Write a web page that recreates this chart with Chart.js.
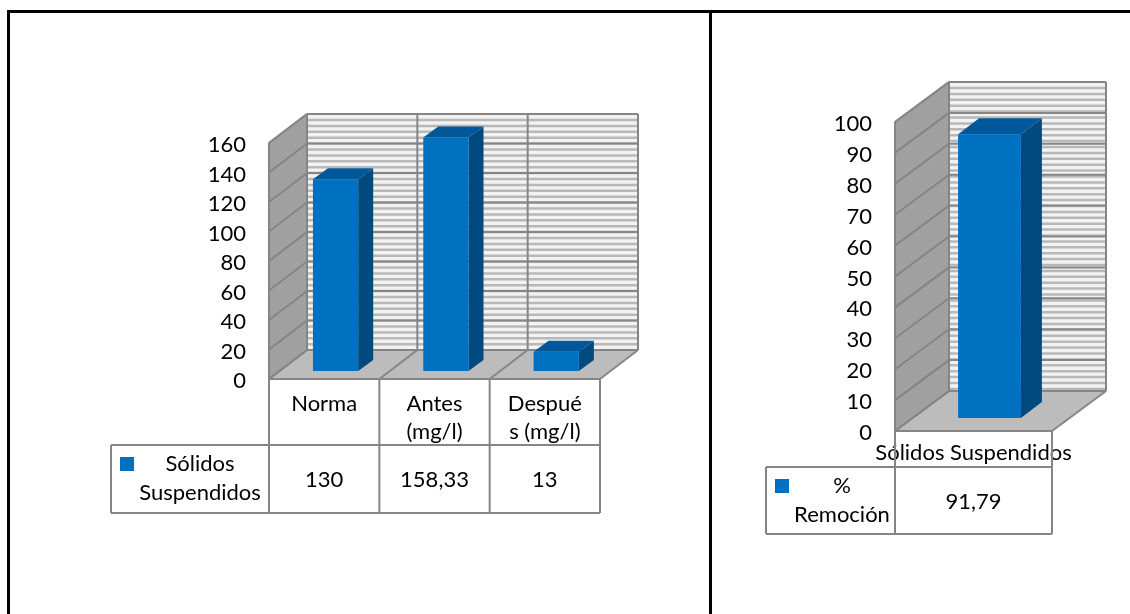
<!DOCTYPE html>
<html>
<head>
<meta charset="utf-8">
<script src="https://cdn.jsdelivr.net/npm/chart.js@4/dist/chart.umd.min.js"></script>
<style>
  body { margin: 0; background: #fff; overflow: hidden; }
  canvas { position: absolute; top: 0; }
  .rule { position: absolute; background: #000; }
</style>
</head>
<body>
<div class="rule" style="left:7px;top:10px;width:1123px;height:3px"></div>
<div class="rule" style="left:7px;top:10px;width:3px;height:604px"></div>
<div class="rule" style="left:709px;top:10px;width:3px;height:604px"></div>
<canvas id="solidsChart" style="left:0" width="709" height="614"></canvas>
<canvas id="removalChart" style="left:712px" width="418" height="614"></canvas>
<script>
const solidsLabels = ["Norma", ["Antes", "(mg/l)"], ["Despué", "s (mg/l)"]];
const solidsValues = [130, 158.33, 13];
const solidsSeries = ["Sólidos", "Suspendidos"];

const removalLabels = ["Sólidos Suspendidos"];
const removalValues = [91.79];
const removalSeries = ["%", "Remoción"];

const FONT = "Lato, 'Open Sans', sans-serif";
const FONT_SIZE = 22;
const BLUE = "#0070c0";

function lineBetween(ctx, x1, y1, x2, y2) {
    ctx.beginPath();
    ctx.moveTo(x1, y1);
    ctx.lineTo(x2, y2);
    ctx.stroke();
}

function poly(ctx, pts, fill) {
    ctx.beginPath();
    pts.forEach((p, i) => i ? ctx.lineTo(p[0], p[1]) : ctx.moveTo(p[0], p[1]));
    ctx.closePath();
    ctx.fillStyle = fill;
    ctx.fill();
}

// the 3D box behind the bars: side wall, back wall, floor
function drawWalls(chart, s) {
    const ctx = chart.ctx;
    const { left, right, top, bottom } = chart.chartArea;
    const dx = s.depth[0], dy = s.depth[1];
    const edge = "#858585";
    ctx.save();

    // back wall with its fine horizontal stripes
    poly(ctx, [[left + dx, top + dy], [right + dx, top + dy], [right + dx, bottom + dy], [left + dx, bottom + dy]], "#f2f2f2");
    ctx.strokeStyle = "#b8b8b8";
    ctx.lineWidth = 2.5;
    for (let y = top + dy + 6; y < bottom + dy; y += 5.9) {
        lineBetween(ctx, left + dx, y, right + dx, y);
    }

    // side wall, plain grey with a faint diagonal grain
    const side = [[left, top], [left + dx, top + dy], [left + dx, bottom + dy], [left, bottom]];
    poly(ctx, side, "#a2a2a2");
    ctx.save();
    ctx.beginPath();
    side.forEach((p, i) => i ? ctx.lineTo(p[0], p[1]) : ctx.moveTo(p[0], p[1]));
    ctx.closePath();
    ctx.clip();
    ctx.strokeStyle = "#9c9c9c";
    ctx.lineWidth = 1;
    for (let y = top; y < bottom - dy; y += 4) {
        lineBetween(ctx, left, y, left + dx, y + dy);
    }
    ctx.restore();

    // floor
    poly(ctx, [[left, bottom], [left + dx, bottom + dy], [right + dx, bottom + dy], [right, bottom]], "#bcbcbc");

    // major gridlines
    ctx.strokeStyle = edge;
    ctx.lineWidth = 2;
    chart.scales.y.ticks.forEach(t => {
        const y = chart.scales.y.getPixelForValue(t.value);
        lineBetween(ctx, left, y, left + dx, y + dy);
        lineBetween(ctx, left + dx, y + dy, right + dx, y + dy);
    });

    // category dividers on the floor and back wall
    const n = chart.data.labels.length;
    const w = (right - left) / n;
    for (let i = 0; i <= n; i++) {
        const x = left + i * w;
        lineBetween(ctx, x, bottom, x + dx, bottom + dy);
        lineBetween(ctx, x + dx, bottom + dy, x + dx, top + dy);
    }

    lineBetween(ctx, left, bottom, left, top);
    lineBetween(ctx, left, top, left + dx, top + dy);
    lineBetween(ctx, left, bottom, right, bottom);
    ctx.restore();
}

function drawBarSides(chart, s) {
    const ctx = chart.ctx;
    const sx = s.barDepth[0], sy = s.barDepth[1];
    chart.getDatasetMeta(0).data.forEach(bar => {
        const l = bar.x - bar.width / 2 + s.shift[0];
        const r = bar.x + bar.width / 2 + s.shift[0];
        const t = bar.y + s.shift[1];
        const b = bar.base + s.shift[1];
        poly(ctx, [[r, t], [r + sx, t + sy], [r + sx, b + sy], [r, b]], "#004a80");
        poly(ctx, [[l, t], [l + sx, t + sy], [r + sx, t + sy], [r, t]], "#00589a");
    });
}

// data table under the plot, with the legend key in its first column
function drawTable(chart, s) {
    const ctx = chart.ctx;
    const { left, right, bottom } = chart.chartArea;
    const n = chart.data.labels.length;
    const w = (right - left) / n;
    ctx.save();
    ctx.strokeStyle = "#858585";
    ctx.lineWidth = 2;
    for (let i = 0; i <= n; i++) {
        lineBetween(ctx, left + i * w, bottom, left + i * w, s.tableBottom);
    }
    lineBetween(ctx, s.tableLeft, s.headerBottom, right, s.headerBottom);
    lineBetween(ctx, s.tableLeft, s.tableBottom, right, s.tableBottom);
    lineBetween(ctx, s.tableLeft, s.headerBottom, s.tableLeft, s.tableBottom);

    ctx.fillStyle = BLUE;
    ctx.fillRect(s.tableLeft + 9, s.headerBottom + 12, 14, 14);

    ctx.fillStyle = "#000";
    ctx.font = FONT_SIZE + "px " + FONT;
    ctx.textAlign = "center";
    ctx.textBaseline = "middle";
    s.series.forEach((line, i) => {
        ctx.fillText(line, s.seriesX, s.headerBottom + 19 + i * 29);
    });
    const valueY = (s.headerBottom + s.tableBottom) / 2 + 1;
    chart.data.datasets[0].data.forEach((v, i) => {
        ctx.fillText(String(v).replace(".", ","), left + (i + 0.5) * w, valueY);
    });
    ctx.restore();
}

const box3d = {
    id: "box3d",
    beforeDatasetsDraw(chart, args, opts) {
        drawWalls(chart, opts);
        drawBarSides(chart, opts);
        chart.ctx.save();
        chart.ctx.translate(opts.shift[0], opts.shift[1]);
    },
    afterDatasetsDraw(chart) {
        chart.ctx.restore();
    },
    afterDraw(chart, args, opts) {
        drawTable(chart, opts);
    }
};

function makeChart(id, labels, values, maxY, step, barPct, tickPad, area, geo) {
    const canvas = document.getElementById(id);
    return new Chart(canvas.getContext("2d"), {
        type: "bar",
        data: {
            labels: labels,
            datasets: [{
                data: values,
                backgroundColor: BLUE,
                borderWidth: 0,
                barPercentage: barPct,
                categoryPercentage: 1,
                clip: false
            }]
        },
        plugins: [box3d],
        options: {
            responsive: false,
            animation: false,
            layout: {
                padding: {
                    left: area.left - 80,
                    right: canvas.width - area.right,
                    top: area.top,
                    bottom: canvas.height - area.bottom - 90
                }
            },
            plugins: {
                legend: { display: false },
                title: { display: false },
                tooltip: { enabled: false },
                box3d: geo
            },
            scales: {
                x: {
                    grid: { display: false },
                    border: { display: false },
                    afterFit: s => { s.height = 90; },
                    ticks: {
                        color: "#000",
                        font: { family: FONT, size: FONT_SIZE, lineHeight: 1.28 },
                        padding: tickPad,
                        maxRotation: 0,
                        autoSkip: false
                    }
                },
                y: {
                    min: 0,
                    max: maxY,
                    grid: { display: false },
                    border: { display: false },
                    afterFit: s => { s.width = 80; },
                    ticks: {
                        color: "#000",
                        font: { family: FONT, size: FONT_SIZE },
                        stepSize: step,
                        padding: 15,
                        labelOffset: 2
                    }
                }
            }
        }
    });
}

makeChart("solidsChart", solidsLabels, solidsValues, 160, 20, 0.41, 3,
    { left: 269, right: 600, top: 143, bottom: 379 },
    {
        depth: [38, -29], shift: [11.4, -8], barDepth: [15, -11],
        tableLeft: 111, headerBottom: 445, tableBottom: 513, seriesX: 200, series: solidsSeries
    });

makeChart("removalChart", removalLabels, removalValues, 100, 10, 0.40, 0,
    { left: 183, right: 340, top: 122, bottom: 431 },
    {
        depth: [54, -40], shift: [16, -13], barDepth: [21, -16],
        tableLeft: 54, headerBottom: 467, tableBottom: 534, seriesX: 130, series: removalSeries
    });
</script>
</body>
</html>
